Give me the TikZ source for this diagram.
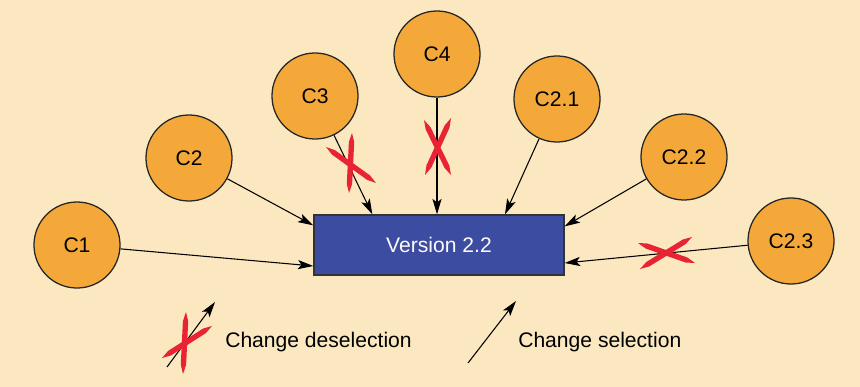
\documentclass[tikz,border=0pt]{standalone}
\usepackage{fontspec}
\setmainfont{Liberation Sans}
\usetikzlibrary{calc,arrows.meta}
\definecolor{bgcream}{RGB}{251,232,192}
\definecolor{cfill}{RGB}{244,168,58}
\definecolor{bfill}{RGB}{60,76,160}
\definecolor{xred}{RGB}{232,36,52}
\newcommand\rstroke[2]{\fill[xred] (#1) -- ($(#1)!0.15!(#2)!1.9pt!90:(#2)$) -- ($(#1)!0.85!(#2)!1.9pt!90:(#2)$) -- (#2) -- ($(#1)!0.85!(#2)!1.9pt!-90:(#2)$) -- ($(#1)!0.15!(#2)!1.9pt!-90:(#2)$) -- cycle;}
\begin{document}
\begin{tikzpicture}[x=0.025cm,y=-0.025cm,
  cnode/.style={circle,draw=black!85,line width=0.9pt,fill=cfill,minimum size=2.15cm,inner sep=0pt,font=\fontsize{15}{18}\selectfont},
  vbox/.style={rectangle,draw=black!80,line width=0.9pt,fill=bfill,minimum width=6.25cm,minimum height=1.5cm,text=white!92!pink,font=\fontsize{15}{18}\selectfont},
  arr/.style={line width=0.75pt,-{Stealth[length=11pt,width=6.5pt,inset=2.5pt]}},
  lbl/.style={anchor=west,inner sep=0pt,font=\fontsize{15}{18}\selectfont}]
\fill[bgcream] (0,0) rectangle (860,387);
\useasboundingbox (0,0) rectangle (860,387);

\node[cnode] (c1) at (77,245) {C1};
\node[cnode] (c2) at (189,158) {C2};
\node[cnode] (c3) at (315,96) {C3};
\node[cnode] (c4) at (437,54) {C4};
\node[cnode] (c21) at (557,99) {C2.1};
\node[cnode] (c22) at (684,157) {C2.2};
\node[cnode] (c23) at (791,241) {C2.3};

\node[vbox] (box) at (439,245) {Version 2.2};

\draw[arr] (c1) -- ($(box.west)+(0,21)$);
\draw[arr] (c2) -- ($(box.north west)+(0,11)$);
\draw[arr] (c3) -- ($(box.north west)+(59,0)$);
\draw[arr] (c4) -- (c4 |- box.north);
\draw[arr] (c21) -- ($(box.north)+(66,0)$);
\draw[arr] (c22) -- ($(box.north east)+(0,12)$);
\draw[arr] (c23) -- ($(box.east)+(0,18)$);

% red crosses on connectors
\rstroke{326,147}{376,183}
\rstroke{352,133}{349,193}
\rstroke{424,120}{451,175}
\rstroke{451,118}{425,175}
\rstroke{638,243}{695,263}
\rstroke{692,237}{640,269}

% legend
\coordinate (d0) at (167,367);
\coordinate (d1) at (215,302);
\draw[arr] (d0) -- (d1);
\rstroke{186,312}{183,374}
\rstroke{162,358}{212,326}
\node[lbl] (t1) at (225,342) {Change deselection};
\coordinate (s0) at (468,363);
\coordinate (s1) at (516,301);
\draw[arr] (s0) -- (s1);
\node[lbl] (t2) at (518,342) {Change selection};
\end{tikzpicture}
\end{document}
